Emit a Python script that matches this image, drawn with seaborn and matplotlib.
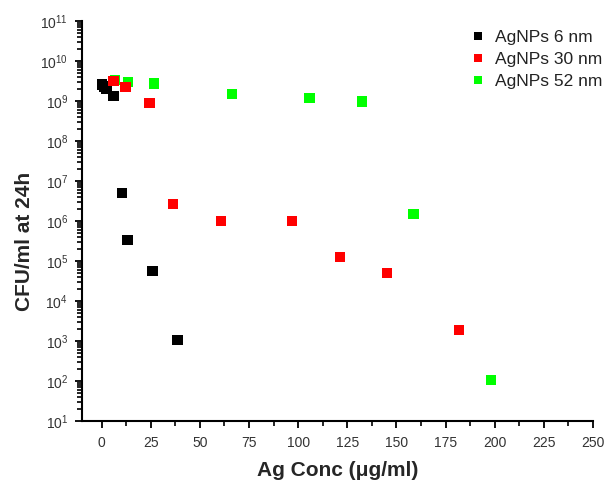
import matplotlib
matplotlib.use("Agg")
import matplotlib.pyplot as plt
import matplotlib.ticker as mticker
import seaborn as sns
import pandas as pd
import numpy as np

# data
x_6nm = [0.0, 1.2, 2.5, 6.1, 10.2, 13.2, 25.9, 38.6]
y_6nm = [2.6e9, 2.3e9, 2.0e9, 1.35e9, 5.0e6, 3.35e5, 5.6e4, 1.06e3]
x_30nm = [6.1, 12.2, 24.4, 36.4, 60.8, 96.9, 121.1, 145.3, 181.8]
y_30nm = [3.16e9, 2.24e9, 8.9e8, 2.66e6, 1.02e6, 1.02e6, 1.26e5, 5.1e4, 1.85e3]
x_52nm = [6.9, 13.5, 26.6, 66.2, 105.8, 132.3, 158.7, 198.2]
y_52nm = [3.3e9, 2.99e9, 2.76e9, 1.47e9, 1.2e9, 9.8e8, 1.5e6, 1.05e2]
labels = ["AgNPs 6 nm", "AgNPs 30 nm", "AgNPs 52 nm"]
colors = ["#000000", "#ff0000", "#00ff00"]
x_ticks = [0, 25, 50, 75, 100, 125, 150, 175, 200, 225, 250]

sns.set_theme(style="white")
plt.rcParams['font.family'] = ['Liberation Sans', 'DejaVu Sans']
plt.rcParams['mathtext.fontset'] = 'custom'
plt.rcParams['mathtext.rm'] = 'Liberation Sans'

# draw order: green, black, red (red on top)
df = pd.concat([
    pd.DataFrame({"x": x_52nm, "y": y_52nm, "s": labels[2]}),
    pd.DataFrame({"x": x_6nm, "y": y_6nm, "s": labels[0]}),
    pd.DataFrame({"x": x_30nm, "y": y_30nm, "s": labels[1]}),
], ignore_index=True)

fig = plt.figure(figsize=(6.07, 4.84), dpi=100)
ax = fig.add_axes([82/607, 1-421/484, 511/607, 400/484])

sns.scatterplot(data=df, x="x", y="y", hue="s", hue_order=labels,
                palette=dict(zip(labels, colors)), marker="s", s=55,
                edgecolor="none", linewidth=0, ax=ax, legend=True, zorder=3)

ax.set_yscale("log")
ax.set_ylim(10, 1e11)
ax.set_xlim(-10, 250)
ax.set_xticks(x_ticks)

for s in ["top", "right"]:
    ax.spines[s].set_visible(False)
for s in ["left", "bottom"]:
    ax.spines[s].set_color("black")
    ax.spines[s].set_linewidth(1.5)

ax.set_xlabel("Ag Conc (μg/ml)", fontsize=15, fontweight="bold", labelpad=8)
ax.set_ylabel("CFU/ml at 24h", fontsize=15, fontweight="bold")
ax.yaxis.set_label_coords((34 - 82) / 511, (421 - 241) / 400)

leg = ax.legend(loc="upper left", bbox_to_anchor=(462/607, 1-23/484),
                bbox_transform=fig.transFigure, frameon=False, fontsize=12.5,
                handletextpad=0.5, labelspacing=0.38, markerscale=0.8,
                borderaxespad=0, handlelength=1.0)
for t in leg.get_texts():
    t.set_color("#222222")

# ticks
ax.xaxis.set_minor_locator(mticker.MultipleLocator(12.5))
ax.yaxis.set_major_locator(mticker.LogLocator(base=10, numticks=20))
ax.yaxis.set_minor_locator(mticker.LogLocator(base=10, subs=np.arange(2, 10), numticks=20))
ax.yaxis.set_minor_formatter(mticker.NullFormatter())
ax.tick_params(axis="x", which="major", length=5, width=1.3, color="black", bottom=True,
               labelsize=10, labelcolor="#333333", pad=6)
ax.tick_params(axis="y", which="major", length=5, width=1.3, color="black", left=True,
               labelsize=10, labelcolor="#333333", pad=5)
ax.tick_params(axis="both", which="minor", length=3.5, width=1.2, color="black",
               bottom=True, left=True)

fig.canvas.draw()
for axis in (ax.xaxis, ax.yaxis):
    for tk in axis.get_minor_ticks():
        tk.tick1line.set_visible(True)
        tk.tick1line.set_markersize(3.5)
        tk.tick1line.set_markeredgewidth(1.2)
        tk.tick1line.set_color("black")
        tk.tick1line.set_zorder(5)
fig.canvas.draw()

fig.savefig("out.png", dpi=100)
